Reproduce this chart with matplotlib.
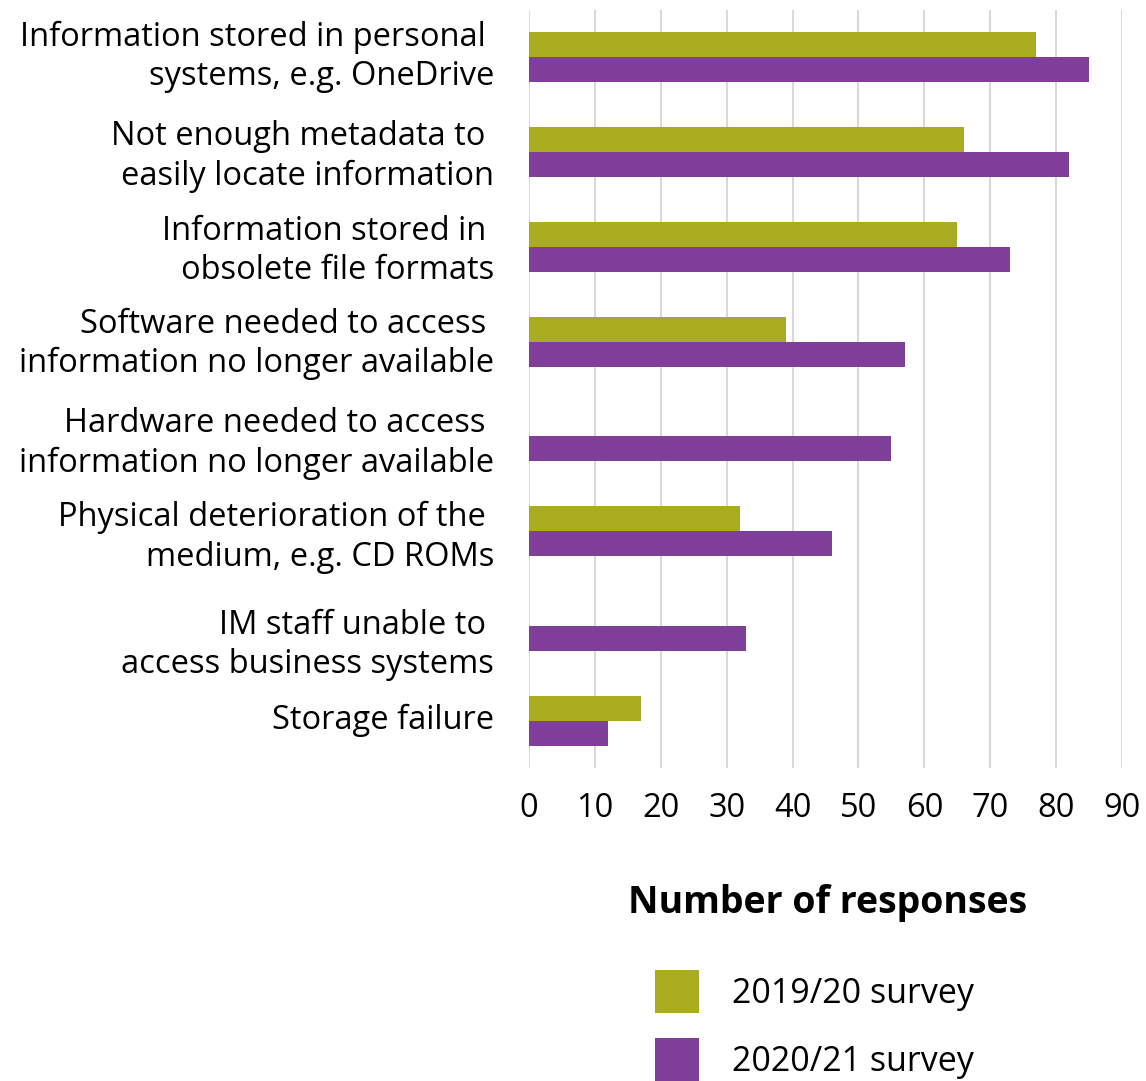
import matplotlib.pyplot as plt
import matplotlib.transforms as mtransforms
import numpy as np

plt.rcParams['font.family'] = ['Open Sans', 'DejaVu Sans']

# Reasons information could not be accessed, top to bottom
CATEGORIES = [
    "Information stored in personal \nsystems, e.g. OneDrive",
    "Not enough metadata to \neasily locate information",
    "Information stored in \nobsolete file formats",
    "Software needed to access \ninformation no longer available",
    "Hardware needed to access \ninformation no longer available",
    "Physical deterioration of the \nmedium, e.g. CD ROMs",
    "IM staff unable to \naccess business systems",
    "Storage failure",
]
# None where the option was not asked in that year
SURVEY_2019 = [77, 66, 65, 39, None, 32, None, 17]
SURVEY_2020 = [85, 82, 73, 57, 55, 46, 33, 12]

GREEN = '#A9AC1F'
PURPLE = '#7F3F98'

# vertical nudge of each category label, in pixels (+ = down)
LABEL_NUDGE = [-8, -3, -3, -5, 0, -1, 12, -4]

fig = plt.figure(figsize=(11.46, 10.81), dpi=100)
ax = fig.add_axes([0.4616, 0.2895, 0.5175, 0.7012])

y = np.arange(len(CATEGORIES))
h = 0.264
v19 = [np.nan if v is None else v for v in SURVEY_2019]
ax.barh(y - h / 2, v19, height=h, color=GREEN, label='2019/20 survey', zorder=3)
ax.barh(y + h / 2, SURVEY_2020, height=h, color=PURPLE, label='2020/21 survey', zorder=3)

ax.set_ylim(len(CATEGORIES) - 0.5, -0.5)
ax.set_xlim(0, 90)
ax.set_xticks(range(0, 91, 10))
ax.set_yticks(y)
ax.set_yticklabels(CATEGORIES, fontsize=23.5, linespacing=1.25)
ax.tick_params(axis='y', length=0, pad=25)
ax.tick_params(axis='x', length=0, labelsize=23.5, pad=17)

for lbl, dy in zip(ax.get_yticklabels(), LABEL_NUDGE):
    shift = mtransforms.ScaledTranslation(0, -dy / fig.dpi, fig.dpi_scale_trans)
    lbl.set_transform(lbl.get_transform() + shift)

ax.grid(axis='x', color='#d9d9d9', linewidth=1.5, zorder=0)
for s in ax.spines.values():
    s.set_visible(False)

fig.text(0.7225, 1 - 903 / 1081, 'Number of responses', fontsize=27,
         fontweight='bold', ha='center', va='center')

fig.legend(loc='upper left', bbox_to_anchor=(638 / 1146, 1 - 953 / 1081),
           frameon=False, fontsize=24.5, handlelength=1.3, handleheight=1.55,
           handletextpad=0.95, labelspacing=0.76, borderpad=0)

fig.savefig('out.png', dpi=100)
